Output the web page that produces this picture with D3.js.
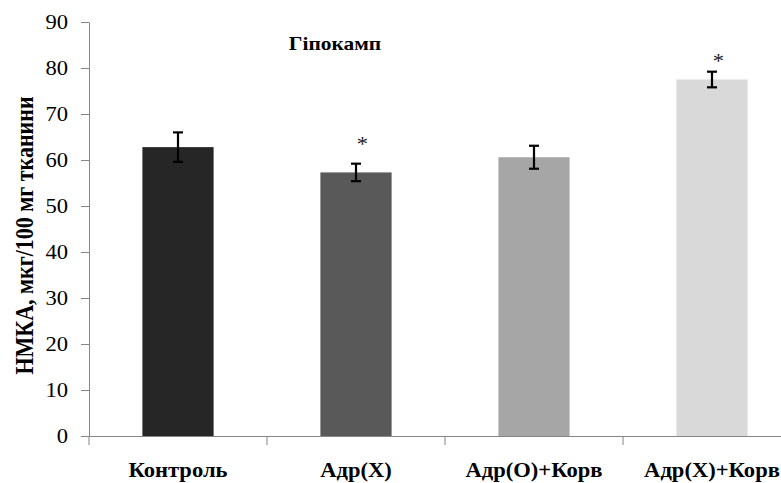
<!DOCTYPE html>
<html><head><meta charset="utf-8">
<script src="https://cdn.jsdelivr.net/npm/d3@7"></script>
<style>body{margin:0;background:#fff} text{font-family:"Liberation Serif","Times New Roman",serif}</style>
</head><body>
<script>
const categories = ["Контроль", "Адр(Х)", "Адр(О)+Корв", "Адр(Х)+Корв"];
const values = [62.8, 57.3, 60.6, 77.5];
const errors = [3.2, 1.9, 2.5, 1.7];
const starLevels = [null, 64.3, null, 82.4];
const barColors = ["#262626", "#595959", "#a6a6a6", "#d9d9d9"];
const yTicks = [0, 10, 20, 30, 40, 50, 60, 70, 80, 90];
const title = "Гіпокамп";
const yLabel = "НМКА, мкг/100 мг тканини";

const W = 781, H = 483;
const SX = 1.13; // horizontal stretch of the lettering
const FONT = "'Liberation Serif', 'Times New Roman', serif";
const svg = d3.select("body").append("svg").attr("width", W).attr("height", H);

const x0 = 89, x1 = 801, yTop = 22, yBot = 436;
const band = d3.scaleBand().domain(categories).range([x0, x1]);
const x = d3.scaleBand().domain(categories).range([x0, x1]).paddingInner(0.6).paddingOuter(0.3);
const y = d3.scaleLinear().domain([0, 90]).range([yBot, yTop]);
const cx = d => band(d) + band.bandwidth() / 2;

// y axis
const yAxis = svg.append("g").attr("transform", `translate(${x0},0)`)
  .call(d3.axisLeft(y).tickValues(yTicks).tickSize(8).tickSizeOuter(0).tickPadding(13));
yAxis.attr("font-family", FONT);
yAxis.select(".domain").attr("stroke", "#868686");
yAxis.selectAll(".tick line").attr("stroke", "#868686");
yAxis.selectAll(".tick text").attr("fill", "#000").attr("font-size", 20)
  .attr("font-family", FONT)
  .attr("transform", function () { const tx = +d3.select(this).attr("x"); return `translate(${tx},0) scale(${SX},1) translate(${-tx},0)`; });

// x axis
const xAxis = svg.append("g").attr("transform", `translate(0,${yBot})`)
  .call(d3.axisBottom(band).tickSize(0).tickSizeOuter(0).tickFormat(""));
xAxis.select(".domain").attr("stroke", "#868686");
const bounds = [x0].concat(categories.map(c => band(c) + band.bandwidth()));
xAxis.selectAll(".bt").data(bounds).enter().append("line")
  .attr("x1", d => d).attr("x2", d => d).attr("y1", 0).attr("y2", 9).attr("stroke", "#868686");

// bars
svg.selectAll(".bar").data(categories).enter().append("rect")
  .attr("x", d => x(d)).attr("width", x.bandwidth())
  .attr("y", (d, i) => y(values[i])).attr("height", (d, i) => yBot - y(values[i]))
  .attr("fill", (d, i) => barColors[i]);

// error bars
const eb = svg.selectAll(".eb").data(categories).enter().append("g")
  .attr("stroke", "#000").attr("stroke-width", 2.2);
eb.append("line").attr("x1", cx).attr("x2", cx)
  .attr("y1", (d, i) => y(values[i] + errors[i])).attr("y2", (d, i) => y(values[i] - errors[i]));
eb.append("line").attr("x1", d => cx(d) - 5).attr("x2", d => cx(d) + 5)
  .attr("y1", (d, i) => y(values[i] + errors[i])).attr("y2", (d, i) => y(values[i] + errors[i]));
eb.append("line").attr("x1", d => cx(d) - 5).attr("x2", d => cx(d) + 5)
  .attr("y1", (d, i) => y(values[i] - errors[i])).attr("y2", (d, i) => y(values[i] - errors[i]));

// significance stars
svg.selectAll(".star").data(categories.filter((d, i) => starLevels[i] != null)).enter().append("text")
  .attr("transform", d => `translate(${cx(d) + 6.5},${y(starLevels[categories.indexOf(d)]) + 11}) scale(${SX},1)`)
  .attr("text-anchor", "middle").attr("font-size", 20).attr("font-family", FONT).attr("fill", "#222").text("*");

// x labels
svg.selectAll(".xl").data(categories).enter().append("text")
  .attr("transform", d => `translate(${cx(d)},477) scale(${SX},1)`)
  .attr("text-anchor", "middle").attr("font-family", FONT)
  .attr("font-size", 20).attr("font-weight", "bold").text(d => d);

// title
svg.append("text").attr("transform", `translate(335,50) scale(${SX},1)`).attr("text-anchor", "middle")
  .attr("font-family", FONT).attr("font-size", 19).attr("font-weight", "bold").text(title);

// y label
svg.append("text").attr("transform", `translate(33,235.5) scale(${SX},1) rotate(-90)`).attr("text-anchor", "middle")
  .attr("font-family", FONT).attr("font-size", 22).attr("font-weight", "bold").text(yLabel);
</script>
</body></html>
